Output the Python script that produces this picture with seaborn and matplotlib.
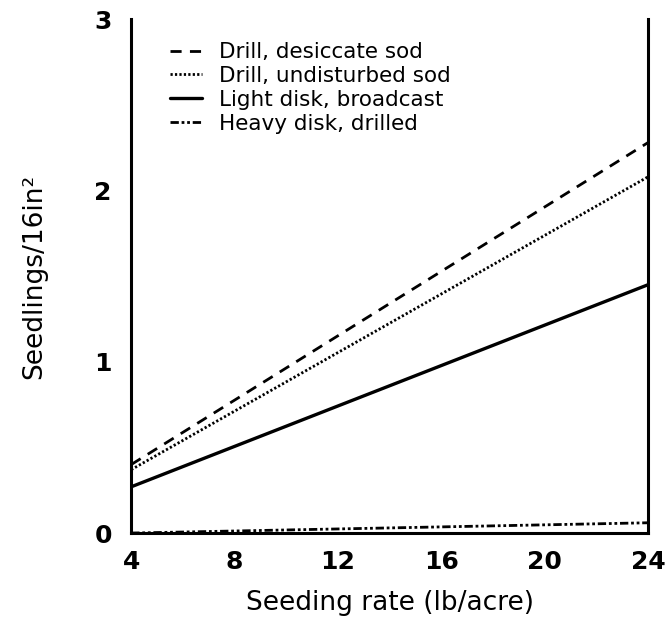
import pandas as pd
import numpy as np
import matplotlib
matplotlib.use("Agg")
import matplotlib.pyplot as plt
import seaborn as sns

sns.set_theme(style="white")
plt.rcParams['font.family'] = ['DejaVu Sans']
plt.rcParams['text.color'] = 'black'
plt.rcParams['axes.labelcolor'] = 'black'

# Seeding rate endpoints (lb/acre) and fitted seedling counts
rates = [4, 24]
drill_desiccate = [0.40, 2.28]
drill_undisturbed = [0.37, 2.08]
light_disk = [0.27, 1.45]
heavy_disk = [0.00, 0.06]

labels = ["Drill, desiccate sod", "Drill, undisturbed sod",
          "Light disk, broadcast", "Heavy disk, drilled"]
series = [drill_desiccate, drill_undisturbed, light_disk, heavy_disk]
styles = [(0, (4, 3)), (0, (0.8, 0.8)), '-', (0, (3, 1, 1, 1, 1, 1))]
widths = [2.0, 2.0, 2.4, 2.0]

rows = []
for lab, vals in zip(labels, series):
    for r, v in zip(rates, vals):
        rows.append({'rate': r, 'seedlings': v, 'treatment': lab})
df = pd.DataFrame(rows)

fig, ax = plt.subplots(figsize=(6.66, 6.22), dpi=100)
fig.subplots_adjust(left=0.197, right=0.973, top=0.969, bottom=0.143)

for lab, ls, lw in zip(labels, styles, widths):
    sub = df[df['treatment'] == lab]
    sns.lineplot(data=sub, x='rate', y='seedlings', ax=ax, color='black',
                 linestyle=ls, linewidth=lw, label=lab)

ax.set_xlim(4, 24)
ax.set_ylim(0, 3)
ax.set_xticks([4, 8, 12, 16, 20, 24])
ax.set_yticks([0, 1, 2, 3])
ax.tick_params(axis='both', direction='inout', length=8, width=1.5,
               labelsize=18, colors='black')
ax.tick_params(axis='x', pad=8)
ax.tick_params(axis='y', pad=10)
for t in ax.get_xticklabels() + ax.get_yticklabels():
    t.set_fontweight('bold')
ax.set_xlabel("Seeding rate (lb/acre)", fontsize=19, labelpad=12)
ax.set_ylabel("Seedlings/16in²", fontsize=19, labelpad=34)

ax.spines['top'].set_visible(False)
for s in ['left', 'bottom', 'right']:
    ax.spines[s].set_color('black')
    ax.spines[s].set_linewidth(2.2)

leg = ax.legend(loc='upper left', frameon=False, fontsize=15.5,
                handlelength=1.5, handletextpad=0.8, labelspacing=0.18,
                borderaxespad=0.3, bbox_to_anchor=(0.045, 0.985))

fig.savefig('out.png', dpi=100)
